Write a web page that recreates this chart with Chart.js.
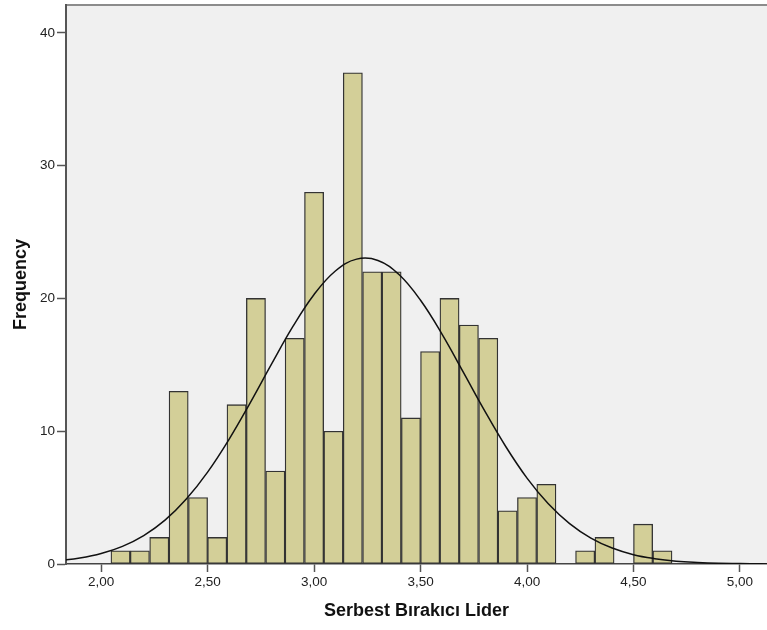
<!DOCTYPE html>
<html>
<head>
<meta charset="utf-8">
<script src="https://cdn.jsdelivr.net/npm/chart.js@4/dist/chart.umd.min.js"></script>
<style>
  body { margin: 0; background: #fff; }
  canvas { display: block; }
</style>
</head>
<body>
<canvas id="histChart" width="767" height="630"></canvas>
<script>
// bin midpoints (bin width 1/11) and counts per bin
const binCenters = [
  2.091, 2.182, 2.273, 2.364, 2.455, 2.545, 2.636, 2.727, 2.818, 2.909,
  3.0, 3.091, 3.182, 3.273, 3.364, 3.455, 3.545, 3.636, 3.727, 3.818,
  3.909, 4.0, 4.091, 4.182, 4.273, 4.364, 4.455, 4.545, 4.636,
];
const counts = [
  1, 1, 2, 13, 5, 2, 12, 20, 7, 17,
  28, 10, 37, 22, 22, 11, 16, 20, 18, 17,
  4, 5, 6, 0, 1, 2, 0, 3, 1,
];

// normal curve overlay
const curveX = [
  1.8, 1.9, 2.0, 2.1, 2.2, 2.3, 2.4, 2.5, 2.6, 2.7, 2.8, 2.9,
  3.0, 3.1, 3.2, 3.3, 3.4, 3.5, 3.6, 3.7, 3.8, 3.9, 4.0, 4.1,
  4.2, 4.3, 4.4, 4.5, 4.6, 4.7, 4.8, 4.9, 5.0, 5.1, 5.2,
];
const curveY = [
  0.24, 0.45, 0.79, 1.33, 2.14, 3.30, 4.89, 6.92, 9.37, 12.14, 15.05, 17.87,
  20.30, 22.07, 22.96, 22.86, 21.78, 19.86, 17.33, 14.47, 11.57, 8.85, 6.47, 4.53,
  3.04, 1.95, 1.20, 0.70, 0.40, 0.21, 0.11, 0.05, 0.03, 0.01, 0.01,
];

const xTicks = [2.0, 2.5, 3.0, 3.5, 4.0, 4.5, 5.0];
const yTicks = [0, 10, 20, 30, 40];

const FONT = "'Liberation Sans', Arial, sans-serif";

const plotFrame = {
  id: "plotFrame",
  beforeDraw(chart) {
    const { ctx, chartArea: a } = chart;
    ctx.save();
    ctx.fillStyle = "#f0f0f0";
    ctx.fillRect(a.left, a.top, a.right - a.left, a.bottom - a.top);
    ctx.strokeStyle = "#8c8c8c";
    ctx.lineWidth = 2;
    ctx.beginPath();
    ctx.moveTo(a.left, a.top);
    ctx.lineTo(a.right, a.top);
    ctx.stroke();
    ctx.restore();
  },
};

const ctx = document.getElementById("histChart").getContext("2d");
new Chart(ctx, {
  type: "bar",
  data: {
    datasets: [
      {
        type: "line",
        data: curveX.map((x, i) => ({ x: x, y: curveY[i] })),
        borderColor: "#111",
        borderWidth: 1.5,
        pointRadius: 0,
        tension: 0.4,
        fill: false,
        order: 0,
      },
      {
        data: binCenters.map((c, i) => ({ x: c, y: counts[i] || null })),
        backgroundColor: "#d3cf98",
        borderColor: "#333",
        borderWidth: 1.3,
        borderSkipped: false,
        barPercentage: 1,
        categoryPercentage: 1,
        order: 1,
      },
    ],
  },
  options: {
    responsive: false,
    devicePixelRatio: 1,
    animation: false,
    layout: { padding: { top: 5, right: 0, left: 0, bottom: 0 } },
    plugins: { legend: { display: false }, tooltip: { enabled: false } },
    scales: {
      x: {
        type: "linear",
        min: 1.835,
        max: 5.127,
        offset: false,
        afterBuildTicks: (scale) => {
          scale.ticks = xTicks.map((v) => ({ value: v }));
        },
        afterFit: (scale) => {
          scale.height = 66;
          scale.paddingLeft = 0;
          scale.paddingRight = 0;
        },
        grid: {
          offset: false,
          drawOnChartArea: false,
          tickLength: 8,
          color: "#555",
          tickWidth: 1.5,
        },
        border: { color: "#444", width: 1.5 },
        ticks: {
          padding: 2,
          color: "#222",
          font: { family: FONT, size: 13.5 },
          callback: (v) => v.toFixed(2).replace(".", ","),
        },
        title: {
          display: true,
          text: "Serbest Bırakıcı Lider",
          color: "#111",
          font: { family: FONT, size: 18, weight: "bold" },
          padding: { top: 0, bottom: 8 },
        },
      },
      y: {
        min: 0,
        max: 42.1,
        afterBuildTicks: (scale) => {
          scale.ticks = yTicks.map((v) => ({ value: v }));
        },
        afterFit: (scale) => {
          scale.width = 66;
          scale.paddingTop = 0;
          scale.paddingBottom = 0;
        },
        grid: {
          drawOnChartArea: false,
          tickLength: 9,
          color: "#555",
          tickWidth: 1.5,
        },
        border: { color: "#555", width: 2 },
        ticks: {
          padding: 2,
          color: "#222",
          font: { family: FONT, size: 13.5 },
        },
        title: {
          display: true,
          text: "Frequency",
          color: "#111",
          font: { family: FONT, size: 18, weight: "bold" },
          padding: { top: 10, bottom: 0 },
        },
      },
    },
  },
  plugins: [plotFrame],
});
</script>
</body>
</html>
